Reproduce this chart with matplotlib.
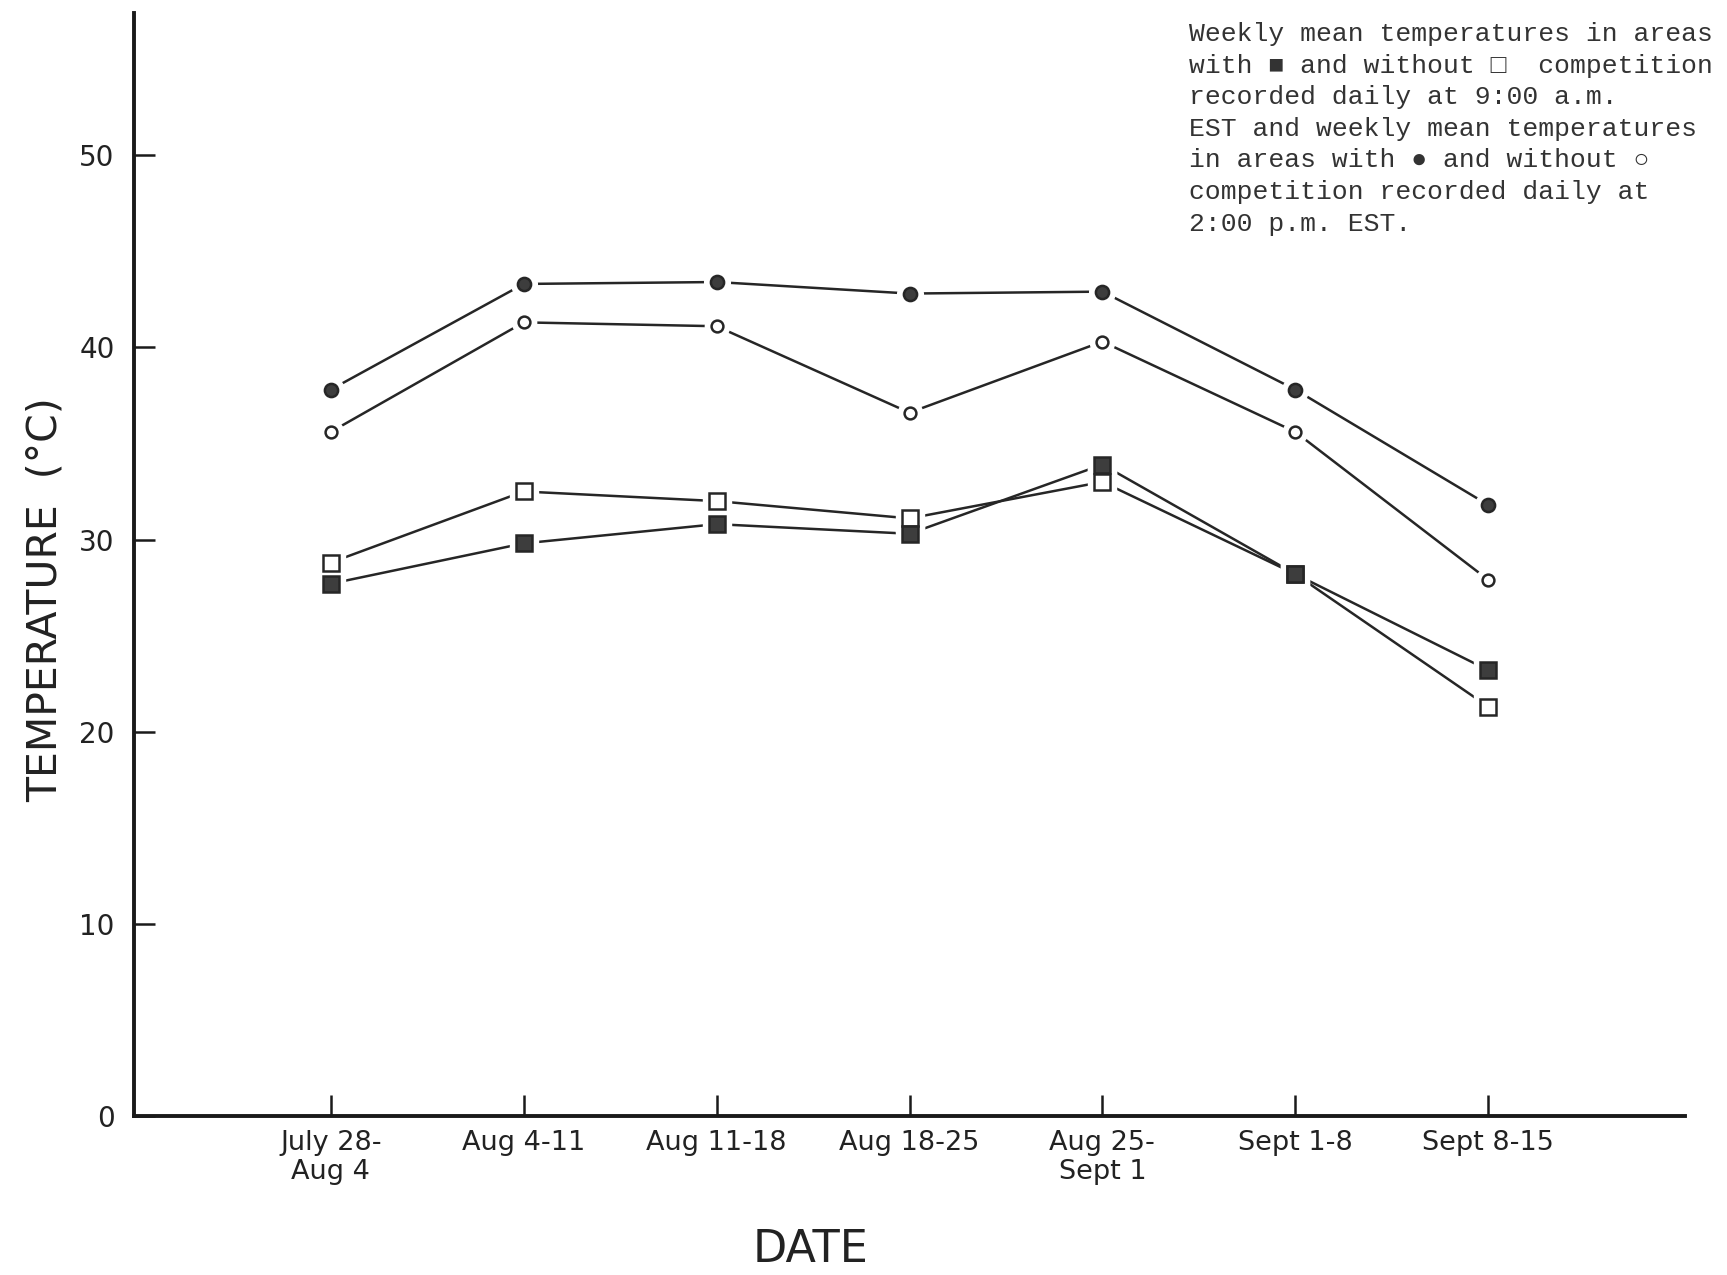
import matplotlib
matplotlib.use("Agg")
import matplotlib.pyplot as plt

weeks = ["July 28-\nAug 4", "Aug 4-11", "Aug 11-18", "Aug 18-25",
         "Aug 25-\nSept 1", "Sept 1-8", "Sept 8-15"]
pm_with = [37.8, 43.3, 43.4, 42.8, 42.9, 37.8, 31.8]      # filled circles, 2:00 p.m.
pm_without = [35.6, 41.3, 41.1, 36.6, 40.3, 35.6, 27.9]   # open circles, 2:00 p.m.
am_without = [28.8, 32.5, 32.0, 31.1, 33.0, 28.2, 21.3]   # open squares, 9:00 a.m.
am_with = [27.7, 29.8, 30.8, 30.3, 33.9, 28.2, 23.2]      # filled squares, 9:00 a.m.
yticks = [0, 10, 20, 30, 40, 50]

note = ("Weekly mean temperatures in areas\n"
        "with \u25a0 and without \u25a1  competition\n"
        "recorded daily at 9:00 a.m.\n"
        "EST and weekly mean temperatures\n"
        "in areas with \u25cf and without \u25cb\n"
        "competition recorded daily at\n"
        "2:00 p.m. EST.")

W, H = 1727, 1275
fig = plt.figure(figsize=(W / 100, H / 100), dpi=100)
ax = fig.add_axes([134 / W, 1 - 1116 / H, (1685 - 134) / W, (1116 - 13) / H])

x = list(range(len(weeks)))
ink = "#262626"
fill = "#3d3d3d"

def series(vals, marker, ms, face):
    ax.plot(x, vals, color=ink, lw=1.8, zorder=2)
    ax.plot(x, vals, ls="none", marker=marker, ms=ms + 9, mfc="white",
            mec="white", zorder=3)
    ax.plot(x, vals, ls="none", marker=marker, ms=ms, mfc=face,
            mec=ink, mew=1.8, zorder=4)

series(pm_with, "o", 9.5, fill)
series(pm_without, "o", 8.5, "white")
series(am_without, "s", 11.5, "white")
series(am_with, "s", 11.5, fill)

ax.set_xlim(-1.02, 7.02)
ax.set_ylim(0, 57.4)
for s in ["top", "right"]:
    ax.spines[s].set_visible(False)
for s in ["left", "bottom"]:
    ax.spines[s].set_linewidth(2.8)
    ax.spines[s].set_color("#1a1a1a")

ax.set_xticks(x)
ax.set_xticklabels(weeks, fontsize=19.5, linespacing=1.15, color="#222222")
ax.set_yticks(yticks)
ax.set_yticklabels([str(v) for v in yticks], fontsize=20, color="#222222")
ax.tick_params(axis="both", direction="in", length=15, width=1.8,
               color="#1a1a1a")
ax.tick_params(axis="x", pad=10)
ax.tick_params(axis="y", pad=14)

fig.text(46 / W, 1 - 600 / H, "TEMPERATURE  (\u00b0C)", rotation=90,
         ha="center", va="center", fontsize=29.5, color="#222222")
fig.text(811 / W, 1 - 1250 / H, "DATE", ha="center", va="center",
         fontsize=32, color="#222222")

fig.text(1189 / W, 1 - 22 / H, note, ha="left", va="top", fontsize=19,
         family=["Liberation Mono", "DejaVu Sans Mono"], linespacing=1.4,
         color="#333333")

fig.savefig("out.png", dpi=100, facecolor="white")
